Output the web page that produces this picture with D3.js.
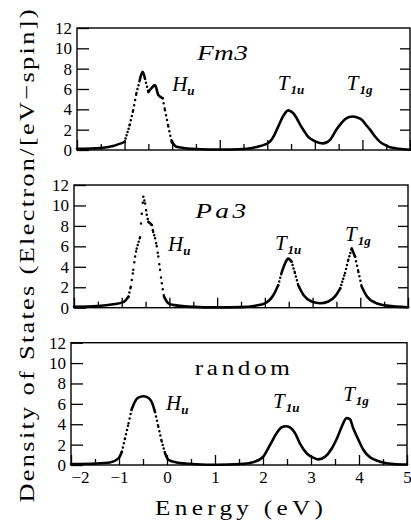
<!DOCTYPE html>
<html>
<head>
<meta charset="utf-8">
<script src="https://cdn.jsdelivr.net/npm/d3@7"></script>
<style>
  body { margin: 0; background: #fff; }
  svg { display: block; }
</style>
</head>
<body>
<svg id="chart" width="411" height="521"></svg>
<script>
// DOS curves (energy in eV, states per eV-spin)
const fm3Energy = [-2.0, -1.5, -1.24, -1.0, -0.89, -0.82, -0.75, -0.68, -0.62, -0.57, -0.5, -0.43, -0.36, -0.29, -0.2, -0.15, -0.08, -0.01, 0.09, 0.5, 1.0, 1.5, 1.65, 1.8, 1.93, 2.05, 2.14, 2.23, 2.33, 2.44, 2.55, 2.62, 2.69, 2.77, 2.86, 2.95, 3.03, 3.17, 3.32, 3.45, 3.55, 3.63, 3.72, 3.8, 3.89, 3.98, 4.07, 4.16, 4.27, 4.37, 4.47, 4.58, 5.0];
const fm3Dos = [0.12, 0.2, 0.4, 0.8, 2.5, 3.9, 5.6, 6.9, 7.7, 7.0, 5.7, 6.1, 6.4, 5.4, 5.1, 3.9, 2.3, 0.8, 0.33, 0.1, 0.05, 0.1, 0.18, 0.33, 0.5, 0.8, 1.4, 2.3, 3.3, 3.9, 3.6, 3.1, 2.5, 1.9, 1.3, 1.0, 0.8, 0.65, 1.0, 2.0, 2.6, 3.0, 3.25, 3.3, 3.2, 3.0, 2.5, 2.0, 1.3, 0.8, 0.5, 0.27, 0.02];

const pa3Energy = [-2.0, -1.5, -1.18, -0.967, -0.86, -0.81, -0.757, -0.72, -0.686, -0.616, -0.58, -0.547, -0.51, -0.476, -0.442, -0.37, -0.34, -0.3, -0.266, -0.233, -0.197, -0.16, -0.113, -0.023, 0.1, 0.5, 1.0, 1.5, 1.8, 2.0, 2.18, 2.28, 2.35, 2.42, 2.49, 2.56, 2.63, 2.7, 2.81, 2.98, 3.16, 3.33, 3.47, 3.58, 3.68, 3.75, 3.82, 3.89, 3.96, 4.03, 4.14, 4.31, 4.56, 5.0];
const pa3Dos = [0.1, 0.17, 0.33, 0.55, 1.08, 2.05, 3.7, 5.0, 5.8, 6.9, 9.2, 10.86, 10.2, 9.1, 8.4, 8.1, 7.4, 6.8, 6.0, 5.0, 3.7, 2.4, 1.08, 0.43, 0.25, 0.08, 0.03, 0.06, 0.2, 0.43, 1.24, 2.2, 3.4, 4.3, 4.8, 4.5, 3.4, 2.2, 1.24, 0.6, 0.43, 0.6, 1.1, 1.9, 3.4, 4.7, 5.8, 5.0, 3.5, 2.05, 1.1, 0.5, 0.2, 0.05];

const randomEnergy = [-2.0, -1.47, -1.19, -1.01, -0.94, -0.875, -0.8, -0.74, -0.67, -0.6, -0.49, -0.39, -0.32, -0.25, -0.18, -0.11, -0.04, 0.03, 0.2, 0.6, 1.04, 1.52, 1.83, 2.0, 2.15, 2.28, 2.39, 2.48, 2.56, 2.67, 2.77, 2.91, 3.08, 3.15, 3.29, 3.43, 3.54, 3.64, 3.74, 3.81, 3.88, 3.99, 4.09, 4.23, 4.44, 4.72, 5.0];
const randomDos = [0.1, 0.15, 0.25, 0.65, 1.3, 2.6, 4.1, 5.4, 6.2, 6.6, 6.75, 6.6, 6.2, 5.2, 3.75, 2.3, 1.15, 0.5, 0.25, 0.08, 0.02, 0.1, 0.33, 0.8, 2.0, 3.1, 3.7, 3.8, 3.7, 3.1, 2.1, 1.15, 0.65, 0.55, 0.8, 1.6, 2.6, 3.75, 4.6, 4.5, 3.6, 2.45, 1.5, 0.75, 0.33, 0.1, 0.05];

const panelNames = ["Fm3", "Pa3", "random"];
const peakNames = [["H", "u"], ["T", "1u"], ["T", "1g"]];
const yTicks = [0, 2, 4, 6, 8, 10, 12];
const xTicks = [-2, -1, 0, 1, 2, 3, 4, 5];
const xMinorTicks = [-1.5, -0.5, 0.5, 1.5, 2.5, 3.5, 4.5];

// label placement, in data units of each panel
const nameAnchorE = [0.52, 0.54, 0.58];
const nameAnchorV = [8.9, 8.8, 8.8];
const peakAnchorE = [[0.0, 2.22, 3.67], [-0.03, 2.21, 3.68], [-0.02, 2.21, 3.67]];
const peakAnchorV = [[5.85, 5.9, 5.9], [5.55, 5.65, 6.5], [5.4, 5.6, 6.3]];

// panel frames in pixels (the scan is slightly skewed)
const boxes = [
  { left: 77, right: 410, top: 28, bottom: 150 },
  { left: 74, right: 408, top: 185, bottom: 307.7 },
  { left: 71, right: 407, top: 342.7, bottom: 465 },
];

const curves = [
  [fm3Energy, fm3Dos],
  [pa3Energy, pa3Dos],
  [randomEnergy, randomDos],
];

const svg = d3.select("#chart");
const serif = "'Liberation Serif', serif";
const tickSize = 17;
const dotStep = 1.0;

function drawCurve(g, x, y, energy, dos) {
  const pts = energy.map((e, i) => [x(e), y(dos[i])]);
  const smooth = d3.line().curve(d3.curveMonotoneX);

  // gap between dots if the curve were sampled at equal energy steps
  const gaps = [];
  for (let i = 0; i < pts.length - 1; i++) {
    const s = Math.abs((pts[i + 1][1] - pts[i][1]) / (pts[i + 1][0] - pts[i][0]));
    const gap = dotStep * Math.sqrt(1 + s * s);
    gaps.push(gap > 3.3 ? gap : 0);
  }

  let i = 0;
  while (i < gaps.length) {
    if (gaps[i] === 0) {
      let j = i;
      while (j + 1 < gaps.length && gaps[j + 1] === 0) j++;
      g.append("path")
        .attr("d", smooth(pts.slice(i, j + 2)))
        .attr("fill", "none")
        .attr("stroke", "#000")
        .attr("stroke-width", 2.6)
        .attr("stroke-linejoin", "round")
        .attr("stroke-linecap", "round");
      i = j + 1;
    } else {
      g.append("path")
        .attr("d", smooth(pts.slice(i, i + 2)))
        .attr("fill", "none")
        .attr("stroke", "#000")
        .attr("stroke-width", 2.5)
        .attr("stroke-linecap", "round")
        .attr("stroke-dasharray", `0 ${gaps[i]}`);
      i++;
    }
  }
}

// wide lettering: glyphs stretched a little, the rest made up by spacing
function wideText(parent, transform, width, size, italic, label, anchor, stretch) {
  return parent.append("text")
    .attr("transform", `${transform} scale(${stretch},1)`)
    .attr("text-anchor", anchor)
    .attr("font-family", serif)
    .attr("font-size", size)
    .attr("font-style", italic ? "italic" : "normal")
    .attr("textLength", width / stretch)
    .attr("lengthAdjust", "spacing")
    .text(label);
}

boxes.forEach((box, p) => {
  const x = d3.scaleLinear().domain([-2, 5]).range([box.left, box.right]);
  const y = d3.scaleLinear().domain([0, 12]).range([box.bottom, box.top]);
  const g = svg.append("g");
  const last = p === boxes.length - 1;

  // left axis with inward ticks and labels
  const left = g.append("g")
    .attr("transform", `translate(${box.left},0)`)
    .call(d3.axisLeft(y).tickValues(yTicks).tickSizeInner(-12).tickSizeOuter(0).tickPadding(5));
  left.select(".domain").remove();
  left.selectAll("line").attr("stroke-width", 1.3);
  left.selectAll("text")
    .attr("font-family", serif)
    .attr("font-size", tickSize)
    .attr("fill", "#000");

  // right axis, ticks only
  const right = g.append("g")
    .attr("transform", `translate(${box.right},0)`)
    .call(d3.axisRight(y).tickValues(yTicks.slice(1, -1)).tickSizeInner(-10).tickSizeOuter(0).tickFormat(""));
  right.select(".domain").remove();
  right.selectAll("line").attr("stroke-width", 1.3);

  // bottom axis: integer ticks (labelled in the last panel) and half ticks
  const bottom = g.append("g")
    .attr("transform", `translate(0,${box.bottom})`)
    .call(d3.axisBottom(x).tickValues(xTicks).tickSizeInner(-10).tickSizeOuter(0).tickPadding(5)
      .tickFormat(last ? d3.format("") : () => ""));
  bottom.select(".domain").remove();
  bottom.selectAll("line").attr("stroke-width", 1.3);

  const minor = g.append("g")
    .attr("transform", `translate(0,${box.bottom})`)
    .call(d3.axisBottom(x).tickValues(xMinorTicks).tickSizeInner(-6).tickSizeOuter(0).tickFormat(""));
  minor.select(".domain").remove();
  minor.selectAll("line").attr("stroke-width", 1.3);

  if (last) {
    bottom.selectAll("text")
      .attr("font-family", serif)
      .attr("font-size", tickSize)
      .attr("fill", "#000")
      .attr("dy", "0.78em")
      // first label starts at the frame corner
      .attr("text-anchor", (d) => (d === xTicks[0] ? "start" : "middle"));
  }

  // frame
  g.append("rect")
    .attr("x", box.left)
    .attr("y", box.top)
    .attr("width", box.right - box.left)
    .attr("height", box.bottom - box.top)
    .attr("fill", "none")
    .attr("stroke", "#000")
    .attr("stroke-width", 1.4);

  drawCurve(g, x, y, curves[p][0], curves[p][1]);

  // panel name
  wideText(g, `translate(${x(nameAnchorE[p])},${y(nameAnchorV[p])})`,
    p < 2 ? 51 : 95, 21, p < 2, panelNames[p], "start", p < 2 ? 1.3 : 1.2);

  // peak labels
  peakNames.forEach(([main, sub], k) => {
    const t = g.append("text")
      .attr("x", x(peakAnchorE[p][k]))
      .attr("y", y(peakAnchorV[p][k]))
      .attr("font-family", serif)
      .attr("font-style", "italic")
      .attr("font-size", 21);
    t.append("tspan").text(main);
    t.append("tspan")
      .attr("dx", main === "T" ? 1 : 0)
      .attr("dy", 4)
      .attr("font-size", 13)
      .attr("font-weight", "bold")
      .text(sub);
  });
});

// axis titles
wideText(svg, "translate(34,256) rotate(-90)", 493, 22, false,
  "Density of States (Electron/[eV\u2212spin])", "middle", 1.2);

wideText(svg, `translate(${(boxes[2].left + boxes[2].right) / 2},515)`, 168, 21, false,
  "Energy (eV)", "middle", 1.2);
</script>
</body>
</html>
